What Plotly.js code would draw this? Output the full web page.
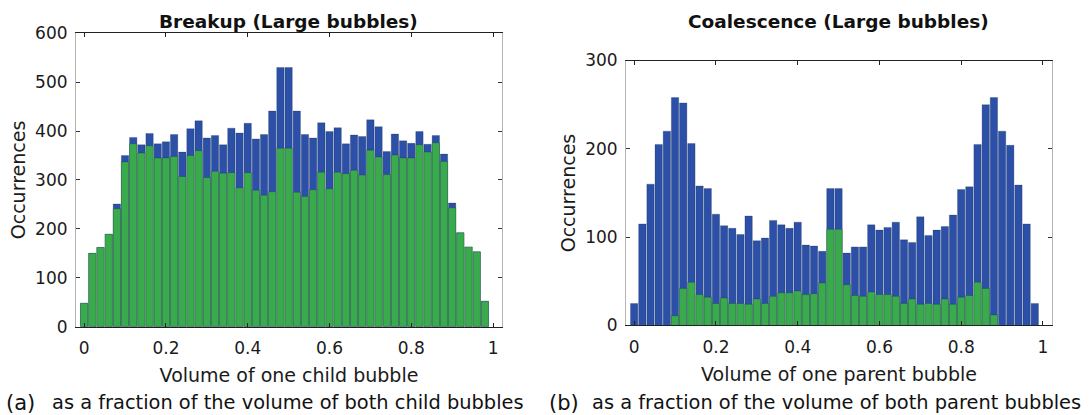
<!DOCTYPE html>
<html><head><meta charset="utf-8">
<script src="https://cdn.plot.ly/plotly-3.0.1.min.js"></script>
<style>html,body{margin:0;padding:0;background:#fff}#chart{width:1090px;height:415px}</style>
</head><body><div id="chart"></div>
<script>
// Bin centres (volume fraction)
const binCenters = [0,0.02,0.04,0.06,0.08,0.10,0.12,0.14,0.16,0.18,0.20,0.22,0.24,0.26,0.28,0.30,0.32,0.34,0.36,0.38,0.40,0.42,0.44,0.46,0.48,0.50,0.52,0.54,0.56,0.58,0.60,0.62,0.64,0.66,0.68,0.70,0.72,0.74,0.76,0.78,0.80,0.82,0.84,0.86,0.88,0.90,0.92,0.94,0.96,0.98];

// (a) Breakup (Large bubbles)
const breakupBlue  = [48,150,162,189,251,350,387,372,395,374,378,393,357,405,421,386,391,372,406,396,416,384,393,441,530,530,441,393,386,417,399,407,374,392,389,423,409,358,394,380,375,399,373,391,353,253,192,163,153,52];
const breakupGreen = [48,150,162,189,241,337,374,355,370,345,345,348,307,350,360,305,318,314,315,284,315,279,269,276,365,365,275,266,280,316,282,316,313,320,310,361,347,311,351,345,345,372,357,376,338,243,192,163,153,52];

// (b) Coalescence (Large bubbles)
const coalBlue  = [25,115,160,205,220,258,252,206,158,155,126,113,110,103,124,96,99,119,114,110,117,91,90,84,155,155,82,89,89,114,108,111,117,97,94,123,102,108,112,125,154,157,205,250,258,220,204,159,115,25];
const coalGreen = [0,0,0,0,0,11,42,49,35,32,25,31,25,25,24,30,25,33,37,37,39,35,36,48,109,109,46,34,33,38,35,35,33,25,30,24,25,24,30,24,32,34,49,42,12,0,0,0,0,0];

const xTickVals = [0,0.2,0.4,0.6,0.8,1];
const xTickText = ['0','0.2','0.4','0.6','0.8','1'];
const yTicksA = [0,100,200,300,400,500,600];
const yTicksB = [0,100,200,300];

const titleA = 'Breakup (Large bubbles)';
const titleB = 'Coalescence (Large bubbles)';
const xTitleA = 'Volume of one child bubble';
const xTitleB = 'Volume of one parent bubble';
const yTitle = 'Occurrences';
const capA = 'as a fraction of the volume of both child bubbles';
const capB = 'as a fraction of the volume of both parent bubbles';

const BLUE = '#2c50a8';
const GREEN = '#3aab4c';
const FONT = 'DejaVu Sans, sans-serif';

function bar(y, color, xa, ya, name) {
  return {type:'bar', x:binCenters, y:y, xaxis:xa, yaxis:ya, name:name,
    marker:{color:color, line:{color:'rgba(10,25,45,0.45)', width:0.5}},
    hoverinfo:'x+y'};
}
const data = [
  bar(breakupBlue, BLUE, 'x', 'y', 'All'),
  bar(breakupGreen, GREEN, 'x', 'y', 'Subset'),
  bar(coalBlue, BLUE, 'x2', 'y2', 'All'),
  bar(coalGreen, GREEN, 'x2', 'y2', 'Subset')
];

function xax(dom, title, yref) {
  return {domain:dom, anchor:yref, range:[-0.02,1.022], tickvals:xTickVals, ticktext:xTickText,
    ticks:'inside', ticklen:4, tickcolor:'#222', showline:true, linecolor:'#222', linewidth:1,
    mirror:'ticks', showgrid:false, zeroline:false, ticklabelstandoff:6,
    tickfont:{family:FONT, size:17, color:'#1a1a1a'},
    title:{text:title, font:{family:FONT, size:19, color:'#1a1a1a'}, standoff:11}};
}
function yax(dom, range, tv, xref) {
  return {domain:dom, anchor:xref, range:range, tickvals:tv,
    ticks:'inside', ticklen:4, tickcolor:'#333', showline:true, linecolor:'#b5b5b5', linewidth:1,
    mirror:'ticks', showgrid:false, zeroline:false, ticklabelstandoff:4,
    tickfont:{family:FONT, size:17, color:'#1a1a1a'},
    title:{text:yTitle, font:{family:FONT, size:19, color:'#1a1a1a'}, standoff:4}};
}

const layout = {
  width:1090, height:415, margin:{l:0,r:0,t:0,b:0},
  paper_bgcolor:'#fff', plot_bgcolor:'#fff', showlegend:false,
  barmode:'overlay', bargap:0.1,
  xaxis: xax([0.0697,0.4606], xTitleA, 'y'),
  yaxis: yax([0.2128,0.9198], [0,600], yTicksA, 'x'),
  xaxis2: xax([0.5743,0.9651], xTitleB, 'y2'),
  yaxis2: yax([0.2157,0.8542], [0,300], yTicksB, 'x2'),
  annotations:[
    {text:'<b>'+titleA+'</b>', xref:'paper', yref:'paper', x:0.2651, y:0.947, xanchor:'center', yanchor:'middle', showarrow:false, font:{family:FONT, size:18.5, color:'#111'}},
    {text:'<b>'+titleB+'</b>', xref:'paper', yref:'paper', x:0.7697, y:0.947, xanchor:'center', yanchor:'middle', showarrow:false, font:{family:FONT, size:18.5, color:'#111'}},
    {text:'(a)', xref:'paper', yref:'paper', x:4/1090, y:0.03, xanchor:'left', yanchor:'middle', showarrow:false, font:{family:FONT, size:21, color:'#111'}},
    {text:capA, xref:'paper', yref:'paper', x:50/1090, y:0.03, xanchor:'left', yanchor:'middle', showarrow:false, font:{family:FONT, size:19.4, color:'#111'}},
    {text:'(b)', xref:'paper', yref:'paper', x:547/1090, y:0.03, xanchor:'left', yanchor:'middle', showarrow:false, font:{family:FONT, size:21, color:'#111'}},
    {text:capB, xref:'paper', yref:'paper', x:590/1090, y:0.03, xanchor:'left', yanchor:'middle', showarrow:false, font:{family:FONT, size:19.4, color:'#111'}}
  ]
};

Plotly.newPlot('chart', data, layout, {displayModeBar:false, staticPlot:true});
</script>
</body></html>
